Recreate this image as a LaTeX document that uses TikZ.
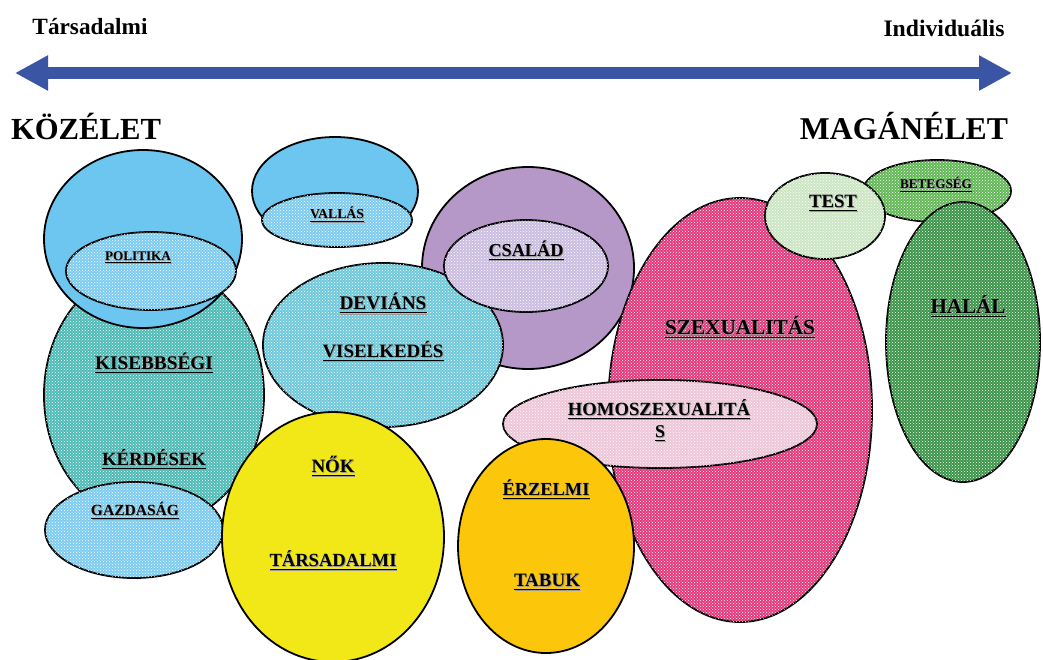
\documentclass[tikz,border=0pt]{standalone}
\usepackage{fontspec}
\setmainfont{Liberation Serif}
\usepackage{graphicx}
\usetikzlibrary{shapes.geometric,patterns,arrows.meta}
\definecolor{arrowblue}{HTML}{3A55A4}
\definecolor{skyblue}{HTML}{6CC6EF}
\definecolor{dotblue}{HTML}{7CCBF0}
\definecolor{tealc}{HTML}{4DBBB6}
\definecolor{devc}{HTML}{6CC8DA}
\definecolor{purplec}{HTML}{B598C8}
\definecolor{lavc}{HTML}{CABDE2}
\definecolor{yellowc}{HTML}{F2E817}
\definecolor{orangec}{HTML}{FCC60B}
\definecolor{pinkc}{HTML}{E3397C}
\definecolor{lpinkc}{HTML}{EEC6D8}
\definecolor{ltgreenc}{HTML}{CCE6C4}
\definecolor{greenc}{HTML}{62B856}
\definecolor{dgreenc}{HTML}{3A9447}
\newcommand\fitu[2]{\resizebox{#1pt}{!}{\bfseries\rlap{\raisebox{-0.07em}{\hspace{0.05em}\textcolor{black!40}{\underline{#2}}}}\underline{#2}}}
\newcommand\fitn[2]{\resizebox{#1pt}{!}{\bfseries #2}}
\tikzset{
  bub/.style={ellipse, draw=black, line width=1.8pt, inner sep=0pt},
  dots/.style={postaction={pattern=crosshatch dots, pattern color=white}},
  lbl/.style={inner sep=0pt, text=black}
}
\begin{document}
\begin{tikzpicture}[x=1pt,y=-1pt]
\useasboundingbox (0,0) rectangle (1043,659);
\fill[white] (0,0) rectangle (1043,659);
% header
\node[lbl] (tars) at (90,27) {\fitn{115}{Társadalmi}};
\node[lbl] (ind) at (944,28) {\fitn{121}{Individuális}};
\coordinate (aL) at (15,73);
\coordinate (aR) at (1012,73);
\draw[arrowblue, line width=12pt, {Triangle[length=33pt,width=33pt]}-{Triangle[length=33pt,width=33pt]}] (aL) -- (aR);
\node[lbl] (koz) at (86,126) {\fitn{150}{KÖZÉLET}};
\node[lbl] (mag) at (904,126) {\fitn{208}{MAGÁNÉLET}};
% bubbles
\node[bub, fill=tealc, dots, minimum width=220pt, minimum height=260pt] (kis) at (154,395) {};
\node[bub, fill=skyblue, minimum width=198pt, minimum height=178pt] (polO) at (143,239) {};
\node[bub, fill=dotblue, dots, minimum width=170pt, minimum height=78pt] (polI) at (151,271) {};
\node[bub, fill=dotblue, dots, minimum width=178pt, minimum height=96pt] (gaz) at (134,530) {};
\node[bub, fill=skyblue, minimum width=166pt, minimum height=108pt] (valO) at (335,191) {};
\node[bub, fill=dotblue, dots, minimum width=150pt, minimum height=54pt] (valI) at (337,220) {};
\node[bub, fill=purplec, minimum width=212pt, minimum height=202pt] (csO) at (528,268) {};
\node[bub, fill=devc, dots, minimum width=240pt, minimum height=164pt] (dev) at (383,345) {};
\node[bub, fill=lavc, dots, minimum width=164pt, minimum height=92pt] (csI) at (526,266) {};
\node[bub, fill=pinkc, dots, minimum width=264pt, minimum height=424pt] (szex) at (740,410) {};
\node[bub, fill=lpinkc, dots, minimum width=314pt, minimum height=88pt] (homo) at (660,424) {};
\node[bub, fill=yellowc, minimum width=222pt, minimum height=250pt] (nok) at (333,537) {};
\node[bub, fill=orangec, minimum width=176pt, minimum height=214pt] (erz) at (546,546) {};
\node[bub, fill=greenc, dots, minimum width=148pt, minimum height=62pt] (bet) at (937,191) {};
\node[bub, fill=ltgreenc, dots, minimum width=120pt, minimum height=86pt] (test) at (825,216) {};
\node[bub, fill=dgreenc, dots, minimum width=154pt, minimum height=280pt] (hal) at (963,342) {};
% labels
\node[lbl] (tPol) at (138,258) {\fitu{66}{POLITIKA}};
\node[lbl] (tVal) at (337,215) {\fitu{54}{VALLÁS}};
\node[lbl] (tKis) at (154,364) {\fitu{118}{KISEBBSÉGI}};
\node[lbl] (tKer) at (154,460) {\fitu{104}{KÉRDÉSEK}};
\node[lbl] (tGaz) at (135,511) {\fitu{88}{GAZDASÁG}};
\node[lbl] (tDev) at (383,304) {\fitu{87}{DEVIÁNS}};
\node[lbl] (tVis) at (383,352) {\fitu{121}{VISELKEDÉS}};
\node[lbl] (tCs) at (526,251) {\fitu{75}{CSALÁD}};
\node[lbl] (tNok) at (333,467) {\fitu{43}{NŐK}};
\node[lbl] (tTar) at (333,561) {\fitu{127}{TÁRSADALMI}};
\node[lbl] (tErz) at (546,490) {\fitu{87}{ÉRZELMI}};
\node[lbl] (tTab) at (547,583) {\fitu{66}{TABUK}};
\node[lbl] (tSzex) at (740,328) {\fitu{150}{SZEXUALITÁS}};
\node[lbl] (tHomo) at (659,410) {\fitu{182}{HOMOSZEXUALITÁ}};
\node[lbl] (tS) at (660,434) {\fitu{10}{S}};
\node[lbl] (tTest) at (833,204) {\fitu{48}{TEST}};
\node[lbl] (tBet) at (936,185) {\fitu{72}{BETEGSÉG}};
\node[lbl] (tHal) at (968,307) {\fitu{75}{HALÁL}};
\end{tikzpicture}
\end{document}
